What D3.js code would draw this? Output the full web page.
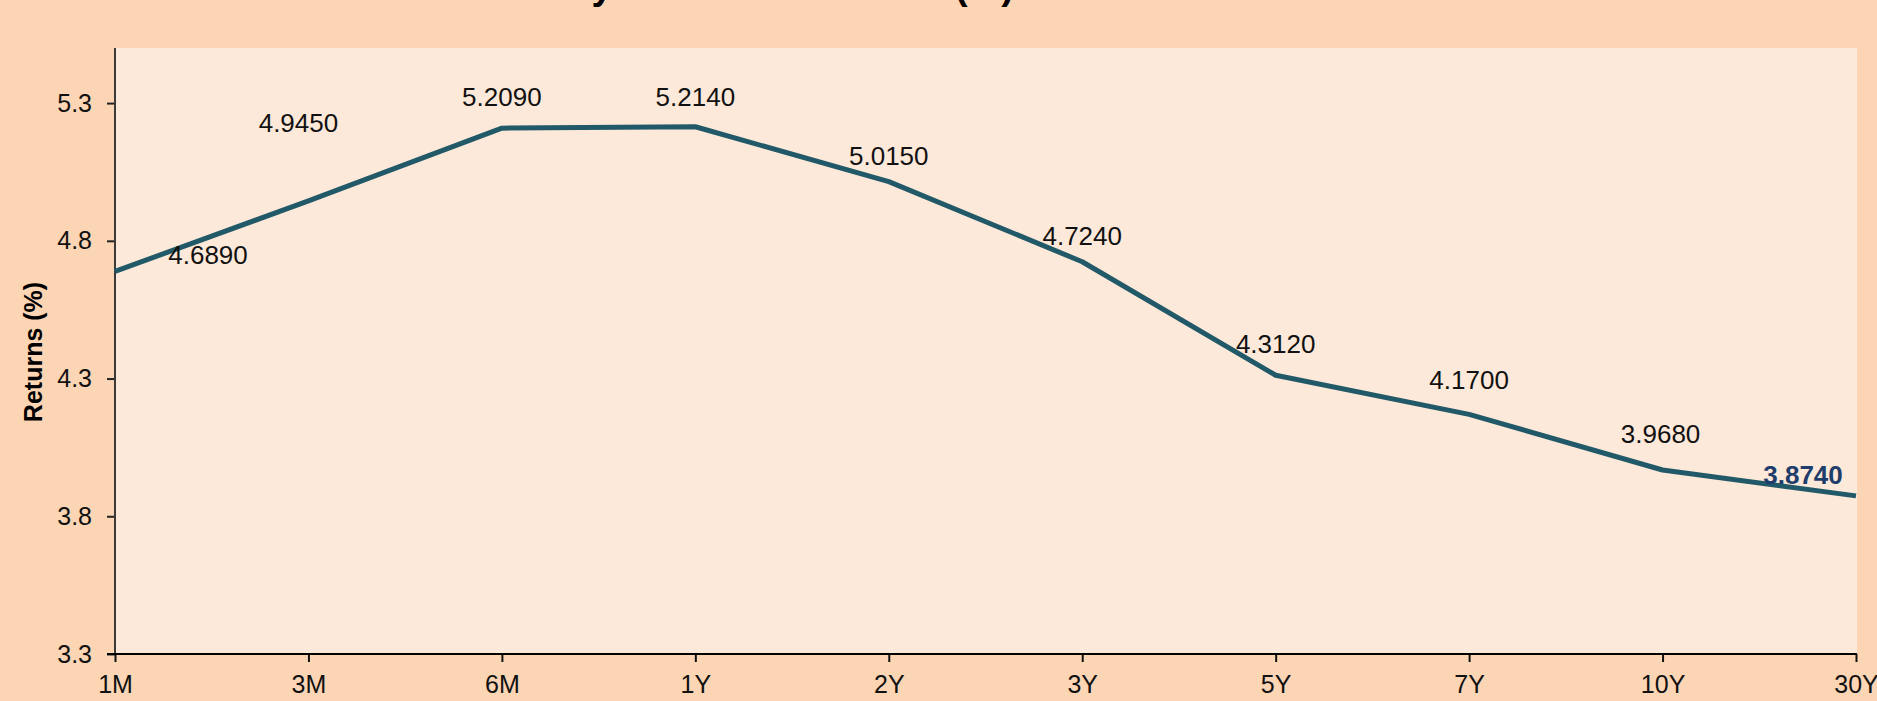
<!DOCTYPE html>
<html>
<head>
<meta charset="utf-8">
<script src="https://cdn.jsdelivr.net/npm/d3@7"></script>
<style>
  html, body { margin: 0; padding: 0; background: #fcd5b5; }
  svg { display: block; font-family: "Liberation Sans", Arial, sans-serif; }
</style>
</head>
<body>
<svg id="chart" width="1877" height="701"></svg>
<script>
// ---- data ----
const tenors = ["1M", "3M", "6M", "1Y", "2Y", "3Y", "5Y", "7Y", "10Y", "30Y"];
const yields = [4.689, 4.945, 5.209, 5.214, 5.015, 4.724, 4.312, 4.170, 3.968, 3.874];
const yTickValues = [3.3, 3.8, 4.3, 4.8, 5.3];
const titleText = "U.S. Treasury Yield Curve Rates (%)";
const yAxisTitle = "Returns (%)";
// label offsets (px) relative to each point
const labelDx = [93, -10, 0, 0, 0, 0, 0, 0, -2, -53];
const labelDy = [-16, -78, -31, -30, -26, -26, -31, -34, -36, -21];

// ---- layout ----
const W = 1877, H = 701;
const plot = { left: 115, right: 1857, top: 48, bottom: 654 };

const svg = d3.select("#chart");
svg.append("rect").attr("width", W).attr("height", H).attr("fill", "#fcd5b5");
svg.append("rect")
  .attr("x", plot.left).attr("y", plot.top)
  .attr("width", plot.right - plot.left).attr("height", plot.bottom - plot.top)
  .attr("fill", "#fde9d9");

const x = d3.scalePoint().domain(tenors).range([plot.left, plot.right - 1]);
const y = d3.scaleLinear().domain([3.3, 5.5]).range([plot.bottom, plot.top]);

// title (mostly cut off at the top)
svg.append("text")
  .attr("x", 1014).attr("y", -1)
  .attr("text-anchor", "end")
  .attr("font-size", 38).attr("font-weight", "bold")
  .attr("fill", "#000")
  .text(titleText);

// y axis
const yAxis = svg.append("g")
  .attr("transform", `translate(${plot.left},0)`)
  .call(d3.axisLeft(y).tickValues(yTickValues).tickFormat(d3.format(".1f")).tickSize(8).tickPadding(15));
yAxis.select(".domain").remove();
yAxis.append("line")
  .attr("x1", 0).attr("x2", 0).attr("y1", plot.top).attr("y2", plot.bottom)
  .attr("stroke", "#3a3a3a").attr("stroke-width", 2);
yAxis.selectAll(".tick line").attr("stroke", "#222").attr("stroke-width", 2);
yAxis.selectAll(".tick text")
  .attr("font-size", 25).attr("fill", "#111")
  .attr("font-family", "'Liberation Sans', Arial, sans-serif");

// x axis
const xAxis = svg.append("g")
  .attr("transform", `translate(0,${plot.bottom})`)
  .call(d3.axisBottom(x).tickSize(8).tickPadding(13));
xAxis.select(".domain").remove();
xAxis.append("line")
  .attr("x1", plot.left - 8).attr("x2", plot.right).attr("y1", 0).attr("y2", 0)
  .attr("stroke", "#000").attr("stroke-width", 2.2);
xAxis.selectAll(".tick line").attr("stroke", "#111").attr("stroke-width", 2);
xAxis.selectAll(".tick text")
  .attr("font-size", 25).attr("fill", "#111")
  .attr("font-family", "'Liberation Sans', Arial, sans-serif");

// y axis title
svg.append("text")
  .attr("transform", `translate(42,352) rotate(-90)`)
  .attr("text-anchor", "middle")
  .attr("font-size", 25).attr("font-weight", "bold").attr("fill", "#000")
  .text(yAxisTitle);

// line
const pts = tenors.map((t, i) => ({ t, v: yields[i], i }));
svg.append("path")
  .datum(pts)
  .attr("fill", "none")
  .attr("stroke", "#215968")
  .attr("stroke-width", 5)
  .attr("stroke-linejoin", "round")
  .attr("d", d3.line().x(d => x(d.t)).y(d => y(d.v)));

// data labels
svg.append("g").selectAll("text")
  .data(pts)
  .join("text")
  .attr("x", d => x(d.t) + labelDx[d.i])
  .attr("y", d => y(d.v) + labelDy[d.i])
  .attr("dy", "0.35em")
  .attr("text-anchor", "middle")
  .attr("font-size", 26)
  .attr("font-weight", d => d.i === pts.length - 1 ? "bold" : "normal")
  .attr("fill", d => d.i === pts.length - 1 ? "#1f3d6b" : "#111")
  .text(d => d3.format(".4f")(d.v));
</script>
</body>
</html>
